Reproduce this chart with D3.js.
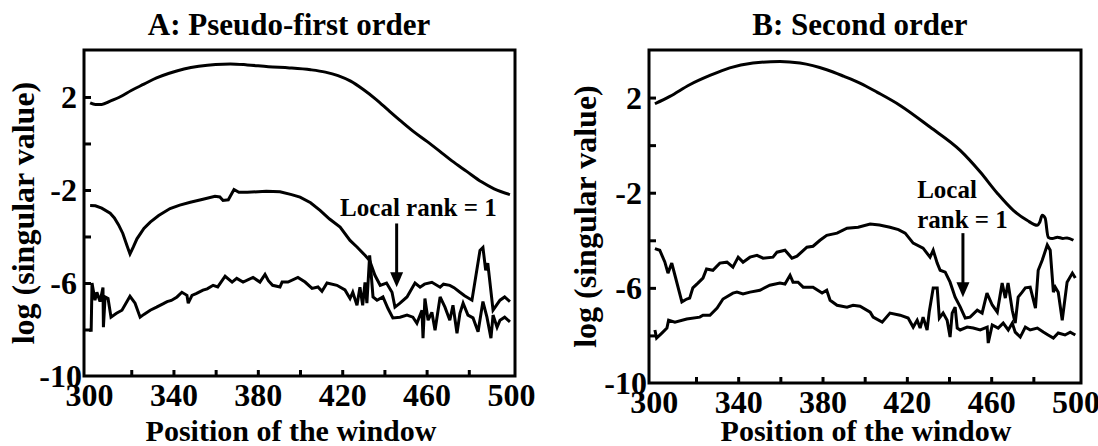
<!DOCTYPE html>
<html>
<head>
<meta charset="utf-8">
<script src="https://cdn.jsdelivr.net/npm/d3@7"></script>
<style>
  body { margin: 0; background: #fff; }
  svg text { font-family: "Liberation Serif", "Times New Roman", serif; font-weight: bold; fill: #000; }
</style>
</head>
<body>
<svg id="chart" width="1098" height="446"></svg>
<script>
// ---- data: [window position, log(singular value)] ----
const xLabelTicks = [300, 340, 380, 420, 460, 500];
const xMinorTicks = [320, 340, 360, 380, 400, 420, 440, 460, 480];
const yLabelTicks = [2, -2, -6, -10];
const yMinorTicks = [2, 0, -2, -4, -6, -8];

const aFirst = [[300.5,1.75],[303,1.68],[306,1.68],[310,1.82],[315,2.02],[320,2.28],[326,2.55],[332,2.82],[338,3.02],[345,3.2],[352,3.32],[360,3.4],[367,3.42],[375,3.38],[385,3.3],[395,3.25],[405,3.17],[412,3.07],[418,2.92],[424,2.68],[430,2.32],[436,1.9],[442,1.42],[448,0.95],[454,0.5],[460,0.1],[466,-0.32],[472,-0.75],[479,-1.2],[486,-1.65],[492,-1.95],[499.5,-2.2]];

const aSecond = [[300.5,-2.67],[303,-2.68],[306,-2.78],[310,-3.0],[312,-3.2],[314,-3.5],[316,-3.87],[318,-4.4],[319.4,-4.75],[321,-4.45],[322.7,-4.1],[326,-3.65],[329,-3.38],[333,-3.1],[338.4,-2.8],[343,-2.65],[348,-2.53],[354,-2.4],[359.7,-2.27],[362,-2.3],[363.5,-2.45],[366,-2.42],[368.7,-1.98],[371,-2.1],[375,-2.1],[384,-2.05],[390.5,-2.08],[396,-2.2],[400,-2.31],[405,-2.55],[409.5,-2.88],[414,-3.25],[419,-3.6],[423.7,-4.17],[427,-4.45],[430.8,-4.81],[433,-5.03],[435.5,-5.67],[438,-6.1],[441,-6.0],[443.6,-6.4],[445,-7.04],[447.4,-6.87],[450.7,-6.6],[454.5,-6.0],[456.9,-6.18],[459,-6.05],[462.5,-5.97],[466.4,-6.18],[468,-6.05],[471,-6.1],[473,-6.2],[475.8,-6.4],[478,-6.55],[481.5,-6.74],[485.3,-4.6],[486.7,-4.47],[488,-5.45],[489,-5.15],[491.5,-7.17],[494.8,-6.74],[497,-6.6],[499.5,-6.8]];

const aThird = [[300,-8.03],[301,-8.03],[301.4,-6.0],[302.8,-6.74],[303.7,-6.4],[305.2,-6.8],[306.6,-6.2],[306.8,-7.9],[307.6,-6.6],[309,-6.67],[310.4,-7.47],[313,-7.3],[315.6,-7.17],[319.4,-6.57],[321.8,-6.87],[324.2,-7.47],[326,-7.35],[329,-7.17],[332,-7.04],[335,-6.9],[337,-6.8],[339,-6.75],[341.7,-6.6],[344,-6.4],[346.4,-6.53],[347,-6.87],[348.8,-6.53],[351,-6.45],[354,-6.31],[356,-6.25],[358.8,-6.1],[361,-6.17],[364.5,-5.71],[367.8,-5.96],[370,-5.8],[373,-5.96],[377.7,-5.76],[381,-5.96],[383.4,-5.63],[385,-5.9],[387,-6.1],[390.5,-6.17],[391.5,-5.96],[394.3,-5.96],[399,-5.76],[402.4,-5.96],[405.7,-6.23],[408.5,-6.17],[410.4,-6.36],[412.8,-6.0],[417.5,-6.1],[421.3,-6.3],[423.7,-6.67],[425,-6.4],[427,-6.96],[428.4,-6.18],[429.7,-6.96],[430.8,-5.97],[431.7,-6.87],[433,-4.81],[434.6,-6.6],[436.5,-6.74],[439.3,-6.6],[441.7,-7.1],[444,-7.5],[447.4,-7.47],[450.7,-7.38],[453.5,-7.47],[455.4,-7.73],[457.8,-7.17],[458.3,-8.37],[459.2,-6.67],[460.7,-7.6],[462.5,-7.26],[464,-8.03],[466.4,-6.6],[468.7,-7.04],[471,-7.6],[472.5,-6.96],[474.4,-8.16],[475.8,-7.3],[477.3,-6.87],[479.6,-7.38],[482,-7.5],[484.4,-8.1],[486.7,-6.8],[488.6,-7.47],[490.5,-8.37],[491.5,-7.38],[493.4,-7.9],[494.8,-7.6],[497,-7.47],[499.5,-7.67]];

const bFirst = [[300.5,1.74],[307.6,2.05],[317,2.54],[326.6,2.93],[336,3.25],[347,3.45],[359.8,3.52],[369.3,3.45],[382,3.17],[390,2.9],[398,2.6],[406,2.22],[416.8,1.67],[431,0.76],[445.3,-0.22],[454.8,-1.13],[462.9,-2.02],[470.5,-2.74],[477,-3.16],[481.9,-3.37],[483,-3.25],[484.2,-2.95],[485.6,-3.07],[487,-3.87],[489,-3.93],[491.4,-3.87],[494,-3.92],[496,-3.9],[499,-4.0]];

const bSecond = [[300.5,-4.35],[302.8,-4.42],[305.2,-4.91],[306.7,-5.38],[308.5,-4.96],[310,-5.47],[313.3,-6.59],[315.6,-6.47],[317,-6.43],[318.5,-6.0],[320.9,-5.8],[323.3,-5.59],[325,-5.21],[328,-5.26],[331.3,-4.96],[334.7,-4.92],[337.5,-5.13],[340,-4.71],[342.3,-4.92],[345.6,-4.71],[348.9,-4.63],[351.8,-4.75],[356.5,-4.71],[358.4,-4.5],[362.2,-4.42],[365.5,-4.75],[367.9,-4.67],[372.6,-4.29],[375.5,-4.25],[378.8,-4.0],[382,-3.79],[386.9,-3.7],[391.6,-3.49],[396.9,-3.45],[402.6,-3.32],[407,-3.36],[412,-3.45],[416,-3.55],[419.2,-3.7],[423,-4.12],[427.7,-4.33],[431,-4.71],[432.5,-4.42],[434.4,-4.96],[435.8,-5.26],[438.2,-5.34],[440.5,-5.76],[442.9,-6.39],[445.3,-6.8],[447.7,-7.27],[450,-7.23],[453.4,-6.94],[455.7,-7.06],[458,-6.22],[460.5,-6.72],[462.9,-7.02],[465.2,-5.8],[466.7,-6.43],[468,-5.8],[470,-6.94],[471.4,-7.48],[472.8,-6.39],[474.7,-6.18],[476.2,-6.0],[478.5,-5.97],[481,-6.85],[482.3,-5.26],[484.2,-4.84],[486.6,-4.2],[488,-4.42],[489.5,-6.18],[490.4,-5.97],[491.8,-6.18],[493.7,-7.36],[496,-5.76],[498.5,-5.38],[499.9,-5.59]];

const bThird = [[300.5,-7.77],[301.3,-8.11],[303.8,-7.9],[306.2,-7.69],[307,-7.36],[310,-7.44],[315.6,-7.31],[321.8,-7.23],[323.3,-7.15],[326.6,-7.15],[330,-6.85],[332.8,-6.47],[337.5,-6.22],[339.4,-6.18],[342.3,-6.26],[345.6,-6.18],[350.3,-6.1],[355,-5.89],[359.8,-5.8],[362.2,-5.84],[364.6,-5.47],[366,-5.76],[368.4,-5.76],[370.8,-5.97],[375.5,-5.97],[379.8,-6.22],[382,-6.1],[383.6,-6.52],[386.9,-6.73],[391.6,-6.81],[394.5,-6.73],[397.8,-6.77],[402.6,-7.02],[404,-7.23],[408.3,-7.44],[412,-7.06],[416.8,-7.15],[420.6,-7.27],[423,-7.65],[424.9,-7.36],[426.3,-7.69],[427.7,-7.23],[429.6,-7.77],[430.6,-7.02],[432.5,-6.01],[434.4,-6.01],[435.4,-7.27],[437.2,-7.06],[439.1,-7.36],[440.5,-8.07],[441.5,-7.06],[442.9,-6.81],[443.9,-7.69],[445.3,-7.77],[448.6,-7.65],[451.5,-7.69],[454.8,-7.77],[458.1,-7.65],[458.6,-8.32],[460.5,-7.56],[463.3,-7.69],[465.7,-7.48],[468.1,-7.77],[470,-7.48],[471.4,-7.86],[473.8,-8.07],[476.2,-7.65],[478.5,-7.77],[481.9,-7.69],[484.7,-7.86],[487,-7.98],[489.5,-8.11],[491.8,-7.9],[495,-7.98],[497.5,-7.86],[499.9,-7.98]];

const panels = [
    {
        title: "A: Pseudo-first order", titleX: 289,
        xDomain: [297.6, 501.9], xRange: [84, 515],
        yDomain: [-10, 4.02], yRange: [376, 50],
        xLabelX: 291, yLabelX: 34,
        smooth: aFirst, noisy: [aSecond, aThird],
        arrow: { x: 445.8, from: -3.44, to: -6.18 },
        note: { x: 419, lines: [["Local rank = 1", -3.14]] }
    },
    {
        title: "B: Second order", titleX: 860,
        xDomain: [297.7, 502.6], xRange: [649, 1081],
        yDomain: [-10, 4.0], yRange: [383, 50],
        xLabelX: 866, yLabelX: 596,
        smooth: bFirst, noisy: [bSecond, bThird],
        arrow: { x: 446.6, from: -3.7, to: -6.39 },
        note: { x: 424.9, lines: [["Local", -2.23], ["rank = 1", -3.49]] }
    }
];

const svg = d3.select("#chart");
const plain = d => String(d);   // hyphen-minus, as in the picture

panels.forEach(p => {
    let x = d3.scaleLinear().domain(p.xDomain).range(p.xRange);
    let y = d3.scaleLinear().domain(p.yDomain).range(p.yRange);
    let g = svg.append("g");

    // curves
    let smoothLine = d3.line().x(d => x(d[0])).y(d => y(d[1])).curve(d3.curveMonotoneX);
    let roughLine = d3.line().x(d => x(d[0])).y(d => y(d[1]));
    g.append("path").attr("d", smoothLine(p.smooth))
        .attr("fill", "none").attr("stroke", "#000").attr("stroke-width", 3);
    p.noisy.forEach(s => {
        g.append("path").attr("d", roughLine(s))
            .attr("fill", "none").attr("stroke", "#000").attr("stroke-width", 3)
            .attr("stroke-linejoin", "miter").attr("stroke-miterlimit", 3);
    });

    // frame
    g.append("rect")
        .attr("x", p.xRange[0]).attr("y", p.yRange[1])
        .attr("width", p.xRange[1] - p.xRange[0])
        .attr("height", p.yRange[0] - p.yRange[1])
        .attr("fill", "none").attr("stroke", "#000").attr("stroke-width", 3);

    // x axis: inward minor ticks + labels
    let xTicks = g.append("g").attr("transform", `translate(0,${p.yRange[0]})`)
        .call(d3.axisBottom(x).tickValues(xMinorTicks).tickSize(-6).tickSizeOuter(0).tickFormat(""));
    let xLabels = g.append("g").attr("transform", `translate(0,${p.yRange[0]})`)
        .call(d3.axisBottom(x).tickValues(xLabelTicks).tickSize(0).tickPadding(7).tickFormat(plain));

    // y axis
    let yTicks = g.append("g").attr("transform", `translate(${p.xRange[0]},0)`)
        .call(d3.axisLeft(y).tickValues(yMinorTicks).tickSize(-7).tickSizeOuter(0).tickFormat(""));
    let yLabels = g.append("g").attr("transform", `translate(${p.xRange[0]},0)`)
        .call(d3.axisLeft(y).tickValues(yLabelTicks).tickSize(0).tickPadding(7).tickFormat(plain));

    [xTicks, xLabels, yTicks, yLabels].forEach(a => {
        a.select(".domain").remove();
        a.selectAll(".tick line").attr("stroke", "#000").attr("stroke-width", 3);
        a.selectAll(".tick text")
            .style("font-family", '"Liberation Serif", "Times New Roman", serif')
            .style("font-weight", "bold")
            .style("font-size", "32px")
            .attr("fill", "#000");
    });
    yLabels.selectAll(".tick text").attr("dy", "0.34em");
    yLabels.selectAll(".tick text").filter(d => d === -10).attr("dx", 5);

    // titles
    g.append("text").attr("x", p.titleX).attr("y", 35)
        .attr("text-anchor", "middle").style("font-size", "31px").text(p.title);
    g.append("text").attr("x", p.xLabelX).attr("y", 441)
        .attr("text-anchor", "middle").style("font-size", "30px").text("Position of the window");
    let yMid = (p.yRange[0] + p.yRange[1]) / 2;
    g.append("text")
        .attr("transform", `translate(${p.yLabelX},${yMid}) rotate(-90)`)
        .attr("text-anchor", "middle").style("font-size", "32px").text("log (singular value)");

    // annotation
    p.note.lines.forEach(([t, v]) => {
        g.append("text").attr("x", x(p.note.x)).attr("y", y(v))
            .style("font-size", "25px").text(t);
    });
    let ax = x(p.arrow.x), y0 = y(p.arrow.from), y1 = y(p.arrow.to);
    g.append("line").attr("x1", ax).attr("x2", ax).attr("y1", y0).attr("y2", y1 - 10)
        .attr("stroke", "#000").attr("stroke-width", 3);
    g.append("path")
        .attr("d", `M${ax - 6.5},${y1 - 15}L${ax + 6.5},${y1 - 15}L${ax},${y1}Z`)
        .attr("fill", "#000");
});
</script>
</body>
</html>
